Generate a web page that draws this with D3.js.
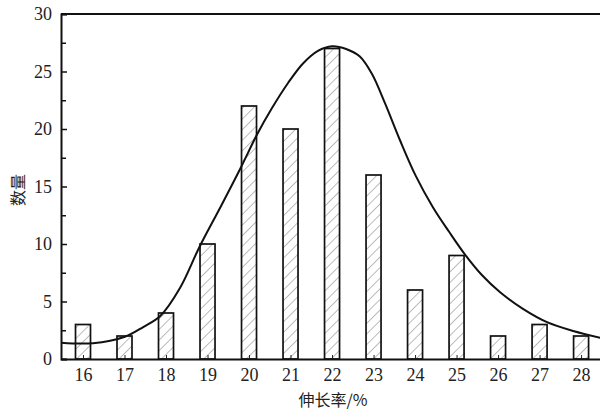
<!DOCTYPE html>
<html>
<head>
<meta charset="utf-8">
<script src="https://cdn.jsdelivr.net/npm/d3@7"></script>
<style>
  body { margin: 0; background: #fff; }
</style>
</head>
<body>
<div id="chart"></div>
<script>
// elongation (%) classes and counts
const classes = [16, 17, 18, 19, 20, 21, 22, 23, 24, 25, 26, 27, 28]
const counts = [3, 2, 4, 10, 22, 20, 27, 16, 6, 9, 2, 3, 2]

// fitted curve
const curveX = [15.47, 16.24, 17.01, 17.45, 17.86, 18.34, 18.8, 19.31, 19.81, 20.19, 20.55, 20.94, 21.3, 21.66, 22.0,
  22.34, 22.67, 22.96, 23.28, 23.64, 24.02, 24.43, 24.82, 25.2, 25.61, 26.05, 26.6, 27.18, 27.81, 28.46]
const curveY = [1.42, 1.37, 1.94, 2.78, 3.74, 6.2, 9.7, 13.2, 16.7, 19.5, 21.8, 24.0, 25.7, 26.8, 27.2,
  26.96, 26.3, 24.8, 22.2, 19.0, 15.9, 13.2, 11.06, 9.1, 7.3, 5.8, 4.36, 3.2, 2.43, 1.85]

const yTicks = [0, 5, 10, 15, 20, 25, 30]
const yMinor = [2.5, 7.5, 12.5, 17.5, 22.5, 27.5]

const width = 600
const height = 411
const margin = { top: 14, right: -1, bottom: 52, left: 61 }

const svg = d3.select("#chart")
  .append("svg")
  .attr("width", width)
  .attr("height", height)

const x = d3.scaleLinear()
  .domain([15.47, 28.48])
  .range([margin.left, width - margin.right])

const y = d3.scaleLinear()
  .domain([0, 30])
  .range([height - margin.bottom, margin.top])

const serif = "'Liberation Serif', 'DejaVu Serif', serif"
const cjk = "'Noto Sans CJK SC', sans-serif"

// hatch fill
const defs = svg.append("defs")
defs.append("pattern")
  .attr("id", "hatch")
  .attr("patternUnits", "userSpaceOnUse")
  .attr("width", 7.5)
  .attr("height", 7.5)
  .attr("patternTransform", "rotate(45)")
  .append("line")
  .attr("x1", 0).attr("y1", 0)
  .attr("x2", 0).attr("y2", 7.5)
  .attr("stroke", "#777")
  .attr("stroke-width", 1)

const barW = 15

svg.append("g")
  .selectAll("rect")
  .data(classes)
  .enter()
  .append("rect")
  .attr("x", (d) => x(d) - barW / 2)
  .attr("y", (d, i) => y(counts[i]))
  .attr("width", barW)
  .attr("height", (d, i) => y(0) - y(counts[i]))
  .attr("fill", "url(#hatch)")
  .attr("stroke", "#111")
  .attr("stroke-width", 1.7)

// small inward ticks on the x axis
svg.append("g")
  .attr("transform", `translate(0,${y(0)})`)
  .call(d3.axisBottom(x).tickValues(classes).tickSize(-4).tickFormat(""))
  .call((g) => g.select(".domain").remove())
  .selectAll("line")
  .attr("stroke", "#222")

// fitted curve
const pts = curveX.map((v, i) => [v, curveY[i]])
svg.append("path")
  .datum(pts)
  .attr("fill", "none")
  .attr("stroke", "#111")
  .attr("stroke-width", 2)
  .attr("d", d3.line().x((d) => x(d[0])).y((d) => y(d[1])).curve(d3.curveCatmullRom.alpha(0.5)))

// y axis
const yAxis = svg.append("g")
  .attr("transform", `translate(${margin.left},0)`)
  .call(d3.axisLeft(y).tickValues(yTicks).tickSize(-6).tickPadding(9))
yAxis.select(".domain").attr("stroke", "#111").attr("stroke-width", 2)
yAxis.selectAll("line").attr("stroke", "#111").attr("stroke-width", 1.5)
yAxis.selectAll("text")
  .attr("font-family", serif)
  .attr("font-size", 18)
  .attr("fill", "#222")

svg.append("g")
  .attr("transform", `translate(${margin.left},0)`)
  .call(d3.axisLeft(y).tickValues(yMinor).tickSize(-5).tickFormat(""))
  .call((g) => g.select(".domain").remove())
  .selectAll("line")
  .attr("stroke", "#111")
  .attr("stroke-width", 1.5)

// x axis baseline and labels
const xAxis = svg.append("g")
  .attr("transform", `translate(0,${y(0)})`)
  .call(d3.axisBottom(x).tickValues(classes).tickSize(0).tickPadding(9))
xAxis.select(".domain").attr("stroke", "#111").attr("stroke-width", 2)
xAxis.selectAll("text")
  .attr("font-family", serif)
  .attr("font-size", 18)
  .attr("fill", "#222")

// top frame line
svg.append("line")
  .attr("x1", margin.left)
  .attr("x2", width)
  .attr("y1", y(30))
  .attr("y2", y(30))
  .attr("stroke", "#111")
  .attr("stroke-width", 2)

// axis titles
svg.append("text")
  .attr("x", 333)
  .attr("y", 406)
  .attr("text-anchor", "middle")
  .attr("font-family", cjk)
  .attr("font-size", 16)
  .attr("fill", "#222")
  .text("伸长率/%")

svg.append("text")
  .attr("transform", "translate(24,190) rotate(-90)")
  .attr("text-anchor", "middle")
  .attr("font-family", cjk)
  .attr("font-size", 16)
  .attr("fill", "#222")
  .text("数量")
</script>
</body>
</html>
